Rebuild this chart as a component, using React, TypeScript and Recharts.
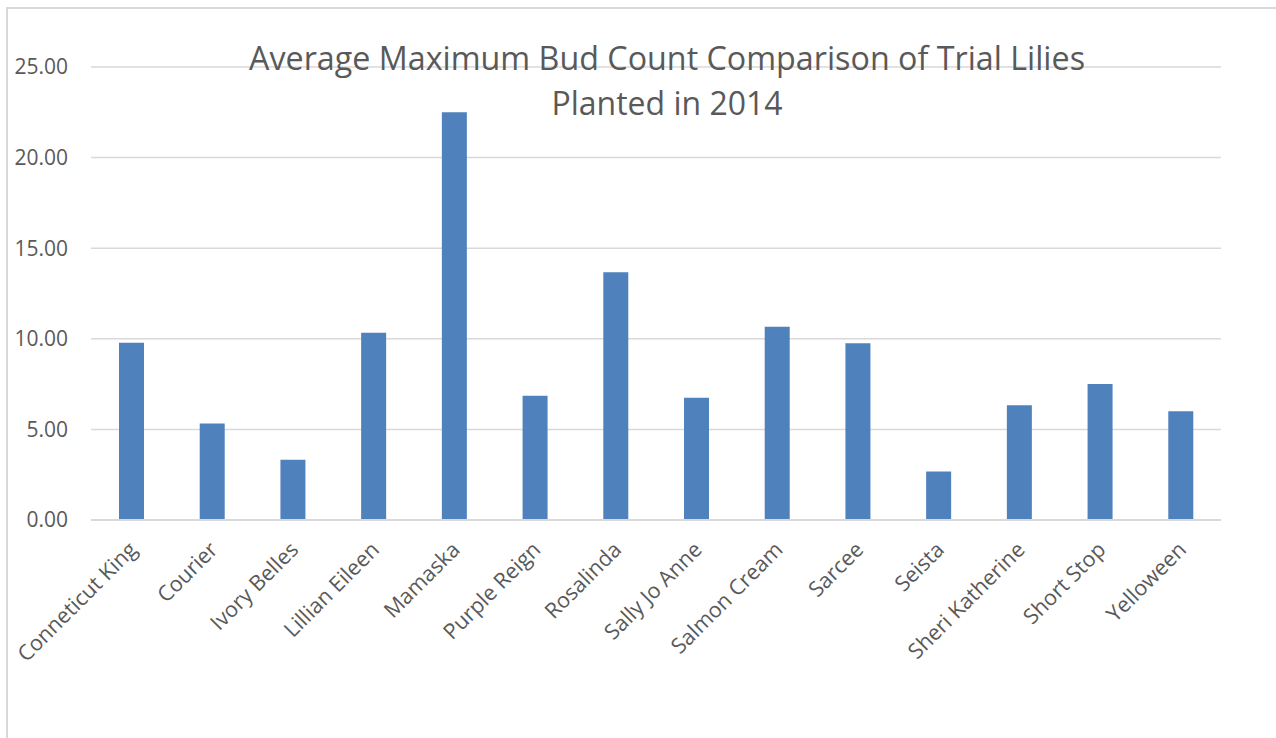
import { BarChart, Bar, XAxis, YAxis, CartesianGrid } from 'recharts';

const varieties = [
  'Conneticut King',
  'Courier',
  'Ivory Belles',
  'Lillian Eileen',
  'Mamaska',
  'Purple Reign',
  'Rosalinda',
  'Sally Jo Anne',
  'Salmon Cream',
  'Sarcee',
  'Seista',
  'Sheri Katherine',
  'Short Stop',
  'Yelloween',
];

const budCounts = [9.78, 5.33, 3.33, 10.33, 22.5, 6.86, 13.67, 6.75, 10.67, 9.75, 2.67, 6.33, 7.5, 6.0];

const yTicks = [0, 5, 10, 15, 20, 25];

const titleLines = ['Average Maximum Bud Count Comparison of Trial Lilies', 'Planted in 2014'];

const chartData = varieties.map((name, i) => ({ name, buds: budCounts[i] }));

const FONT = '"Open Sans", "Noto Sans", sans-serif';
const TEXT = '#595959';

// slanted category labels, top-right corner sits just under the axis
function SlantTick({ x, y, payload }: any) {
  return (
    <g transform={`translate(${x - 6},${y + 10})`}>
      <text
        transform="rotate(-45)"
        textAnchor="end"
        dominantBaseline="hanging"
        fill={TEXT}
        fontSize={21.5}
        fontFamily={FONT}
      >
        {payload.value}
      </text>
    </g>
  );
}

export default function App() {
  return (
    <div style={{ position: 'fixed', left: 0, top: 0, width: 1276, height: 738, background: '#fff' }}>
      <div
        style={{
          position: 'absolute',
          left: 6,
          top: 7,
          width: 1300,
          height: 760,
          border: '2px solid #d9d9d9',
        }}
      />
      <BarChart
        width={1276}
        height={738}
        data={chartData}
        margin={{ top: 67, right: 55, left: 0, bottom: 0 }}
      >
        <CartesianGrid stroke="#d9d9d9" strokeWidth={1.5} vertical={false} />
        <XAxis
          dataKey="name"
          interval={0}
          height={218}
          tickLine={false}
          axisLine={{ stroke: '#d9d9d9', strokeWidth: 2 }}
          tick={<SlantTick />}
        />
        <YAxis
          width={91}
          domain={[0, 25]}
          ticks={yTicks}
          axisLine={false}
          tickLine={false}
          tickMargin={17}
          tickFormatter={(v: number) => v.toFixed(2)}
          tick={{ fill: TEXT, fontSize: 21, fontFamily: FONT }}
        />
        <Bar dataKey="buds" fill="#4f81bd" barSize={25} isAnimationActive={false} />
      </BarChart>
      <svg width={1276} height={140} style={{ position: 'absolute', left: 0, top: 0, pointerEvents: 'none' }}>
        <text x={667} y={70} textAnchor="middle" fill={TEXT} fontSize={32} fontFamily={FONT} textLength={836} lengthAdjust="spacingAndGlyphs">
          {titleLines[0]}
        </text>
        <text x={667} y={115} textAnchor="middle" fill={TEXT} fontSize={32} fontFamily={FONT} textLength={231} lengthAdjust="spacingAndGlyphs">
          {titleLines[1]}
        </text>
      </svg>
    </div>
  );
}
